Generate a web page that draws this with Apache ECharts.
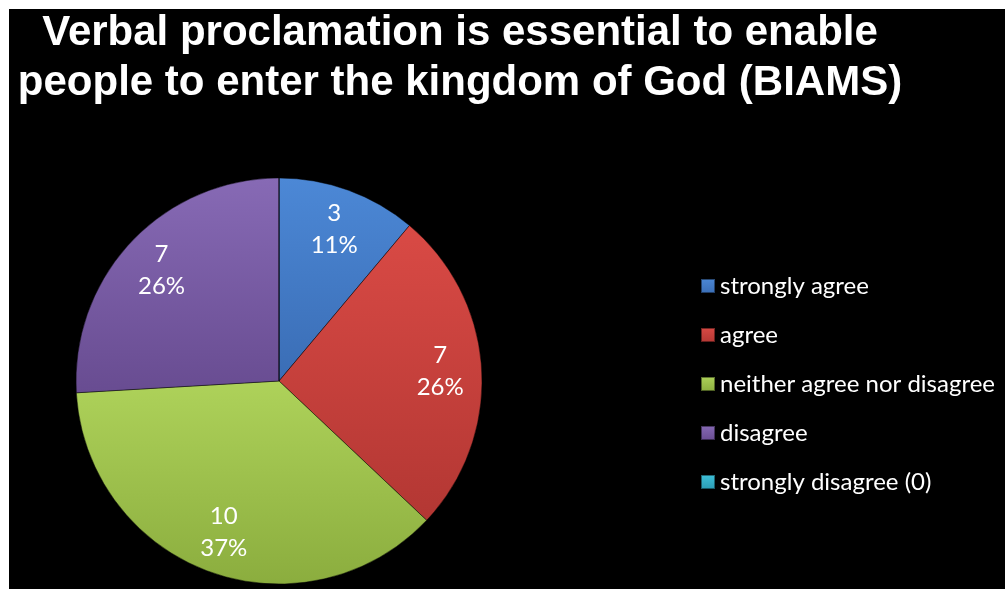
<!DOCTYPE html>
<html>
<head>
<meta charset="utf-8">
<script src="https://cdn.jsdelivr.net/npm/echarts@6/dist/echarts.min.js"></script>
<style>
  html, body { margin: 0; padding: 0; background: #fff; }
  #chart { position: absolute; left: 9px; top: 9px; width: 996px; height: 580px; background: #000; }
</style>
</head>
<body>
<div id="chart"></div>
<script>
const titleLines = ['Verbal proclamation is essential to enable', 'people to enter the kingdom of God (BIAMS)']
const categories = ['strongly agree', 'agree', 'neither agree nor disagree', 'disagree', 'strongly disagree (0)']
const counts = [3, 7, 10, 7, 0]

// light / dark ends of each slice gradient
const palette = [
  ['#4c88d6', '#3a6db5'],
  ['#d94a45', '#b33733'],
  ['#aed25a', '#8bad3e'],
  ['#876ab5', '#684c91'],
  ['#3fc2da', '#2a9ab3']
]

const grad = (c) => new echarts.graphic.LinearGradient(0, 0, 0, 1, [
  { offset: 0, color: c[0] },
  { offset: 1, color: c[1] }
])

const pieData = categories.map((name, i) => ({
  name,
  value: counts[i],
  itemStyle: { color: grad(palette[i]) }
}))

const chart = echarts.init(document.getElementById('chart'))

const option = {
  backgroundColor: '#000',
  animation: false,
  title: {
    text: titleLines.join('\n'),
    left: 446,
    top: -6,
    textAlign: 'center',
    textStyle: {
      color: '#fff',
      fontFamily: '"Liberation Sans", sans-serif',
      fontWeight: 'bold',
      fontSize: 42,
      lineHeight: 50
    }
  },
  legend: {
    orient: 'vertical',
    left: 686,
    top: 259,
    itemWidth: 14,
    itemHeight: 14,
    itemGap: 23,
    icon: 'rect',
    data: categories,
    selectedMode: false,
    textStyle: {
      color: '#fff',
      fontFamily: 'Lato, sans-serif',
      fontSize: 24,
      lineHeight: 26
    }
  },
  series: [
    {
      type: 'pie',
      center: [270, 372],
      radius: [0, 203],
      startAngle: 90,
      silent: true,
      label: { show: false },
      labelLine: { show: false },
      itemStyle: {
        borderColor: 'rgba(0,0,0,0.45)',
        borderWidth: 1
      },
      data: pieData
    },
    {
      // transparent ring only used to place the labels further out
      type: 'pie',
      center: [270, 372],
      radius: [114, 203],
      startAngle: 90,
      silent: true,
      percentPrecision: 0,
      itemStyle: { color: 'rgba(0,0,0,0)' },
      labelLine: { show: false },
      label: {
        show: true,
        position: 'inside',
        color: '#fff',
        fontFamily: 'Lato, sans-serif',
        fontSize: 24,
        lineHeight: 32,
        formatter: (p) => p.value === 0 ? '' : p.value + '\n' + p.percent + '%'
      },
      data: categories.map((name, i) => ({ name, value: counts[i] }))
    }
  ]
}

chart.setOption(option)
</script>
</body>
</html>
